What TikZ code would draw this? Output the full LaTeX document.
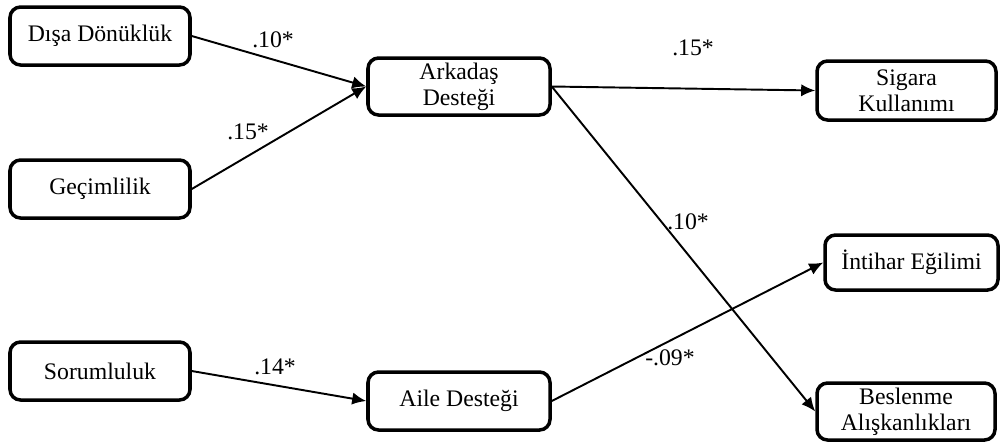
\documentclass[tikz,border=0pt]{standalone}
\usepackage{fontspec}
\setmainfont{Liberation Serif}
\usetikzlibrary{arrows.meta}

\tikzset{
  kutu/.style={draw, line width=2pt, rounded corners=6pt, align=center,
    inner sep=1pt, font=\fontsize{13.5}{15}\selectfont},
  yol/.style={line width=1.1pt, -{Latex[length=8pt,width=7pt]}},
  katsayi/.style={font=\fontsize{13.5}{15}\selectfont, inner sep=0pt}
}

\begin{document}
\begin{tikzpicture}[x=0.02cm, y=-0.02cm]
  \useasboundingbox (0,0) rectangle (1000,441);
  \node [kutu, minimum width=180*0.02cm, minimum height=58*0.02cm] (disa) at (100,36) {Dışa Dönüklük};
  \node [kutu, minimum width=180*0.02cm, minimum height=58*0.02cm] (gecim) at (100,189) {Geçimlilik};
  \node [kutu, minimum width=180*0.02cm, minimum height=58*0.02cm] (sorum) at (100,371) {Sorumluluk};
  \node [kutu, minimum width=182*0.02cm, minimum height=57*0.02cm] (arkadas) at (459,86.5) {Arkadaş\\Desteği};
  \node [kutu, minimum width=182*0.02cm, minimum height=58*0.02cm] (aile) at (459,401) {Aile Desteği};
  \node [kutu, minimum width=179*0.02cm, minimum height=59*0.02cm] (sigara) at (906.5,90.5) {Sigara\\Kullanımı};
  \node [kutu, minimum width=173*0.02cm, minimum height=55*0.02cm] (intihar) at (911.5,262.5) {İntihar Eğilimi};
  \node [kutu, minimum width=178*0.02cm, minimum height=57*0.02cm] (beslenme) at (906,411.5) {Beslenme\\Alışkanlıkları};

  % yollar
  \draw [yol] (disa.east) -- (arkadas.west);
  \draw [yol] (gecim.east) -- (arkadas.west);
  \draw [yol] (arkadas.east) -- (sigara.west);
  \draw [yol] (arkadas.east) -- (beslenme.west);
  \draw [yol] (sorum.east) -- (aile.west);
  \draw [yol] (aile.east) -- (intihar.west);

  % katsayilar
  \node [katsayi] (k1) at (273,40) {.10*};
  \node [katsayi] (k2) at (248,132) {.15*};
  \node [katsayi] (k3) at (693,48) {.15*};
  \node [katsayi] (k4) at (688,222) {.10*};
  \node [katsayi] (k5) at (275,367) {.14*};
  \node [katsayi] (k6) at (670,358) {-.09*};
\end{tikzpicture}
\end{document}
